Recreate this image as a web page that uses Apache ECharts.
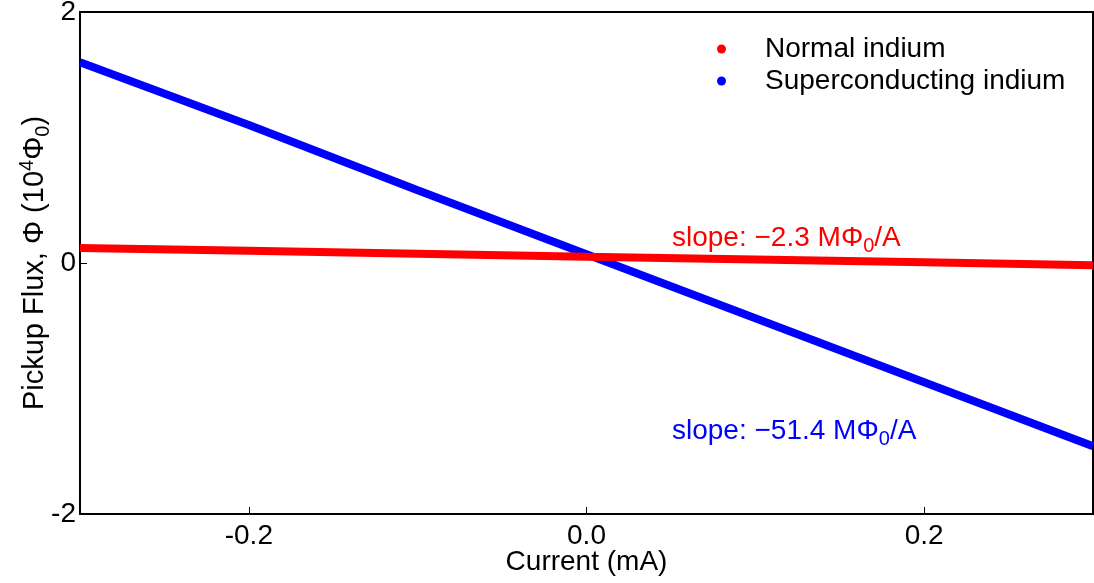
<!DOCTYPE html>
<html>
<head>
    <meta charset="utf-8">
    <style>
        html, body {
            height: 100%;
        }

        * {
            margin: 0;
            padding: 0;
        }

        #container {
            width: 1094px;
            height: 583px;
            background: #fff;
        }
    </style>
</head>
<body>
<div id="container"></div>
<script type="text/javascript" src="https://cdn.jsdelivr.net/npm/echarts@6/dist/echarts.min.js"></script>
<script type="text/javascript">
    // current in mA
    let currentMA = [-0.3, -0.2, -0.1, 0.0, 0.1, 0.2, 0.3];
    // pickup flux in 10^4 Phi0
    let normalFlux = [0.12, 0.097, 0.074, 0.05, 0.028, 0.005, -0.018];
    let superFlux = [1.60, 1.10, 0.58, 0.07, -0.44, -0.95, -1.46];
    let xTicks = [-0.2, 0.0, 0.2];
    let yTicks = [-2, 0, 2];

    let font = 'Liberation Sans, Arial, sans-serif';

    function pairs(xs, ys) {
        return xs.map(function (x, i) {
            return [x, ys[i]];
        });
    }

    let dom = document.getElementById("container");
    let myChart = echarts.init(dom, null, {renderer: 'canvas'});

    let option = {
        animation: false,
        grid: {
            left: 80,
            right: 1,
            top: 12,
            bottom: 69,
            show: true,
            borderColor: '#000',
            borderWidth: 2,
            outerBoundsMode: 'none',
            containLabel: false
        },
        legend: {
            data: ['Normal indium', 'Superconducting indium'],
            orient: 'vertical',
            left: 712,
            top: 30,
            icon: 'circle',
            itemWidth: 9,
            itemHeight: 9,
            itemGap: 4,
            textStyle: {
                fontFamily: font,
                fontSize: 28,
                color: '#000',
                padding: [0, 0, 0, 34],
                lineHeight: 28
            }
        },
        xAxis: {
            type: 'value',
            min: -0.3,
            max: 0.3,
            name: 'Current (mA)',
            nameLocation: 'middle',
            nameGap: 34,
            nameMoveOverlap: false,
            nameTextStyle: {fontFamily: font, fontSize: 28, color: '#000'},
            axisLine: {show: true, onZero: false, lineStyle: {color: '#000', width: 2}},
            axisTick: {show: true, inside: true, length: 7, customValues: xTicks, lineStyle: {color: '#000', width: 1}},
            axisLabel: {
                customValues: xTicks,
                fontFamily: font,
                fontSize: 28,
                color: '#000',
                margin: 8,
                formatter: function (v) {
                    return v.toFixed(1);
                }
            },
            splitLine: {show: false}
        },
        yAxis: {
            type: 'value',
            min: -2,
            max: 2,
            interval: 2,
            name: 'Pickup Flux, Φ (10{sup|4}Φ{sub|0})',
            nameLocation: 'middle',
            nameGap: 27,
            nameMoveOverlap: false,
            nameTextStyle: {
                fontFamily: font,
                fontSize: 29,
                color: '#000',
                lineHeight: 36,
                rich: {
                    sup: {fontFamily: font, fontSize: 20, color: '#000', verticalAlign: 'top', lineHeight: 30},
                    sub: {fontFamily: font, fontSize: 20, color: '#000', verticalAlign: 'bottom', lineHeight: 36}
                }
            },
            axisLine: {show: true, onZero: false, lineStyle: {color: '#000', width: 2}},
            axisTick: {show: true, inside: true, length: 7, customValues: yTicks, lineStyle: {color: '#000', width: 1}},
            axisLabel: {
                customValues: yTicks,
                fontFamily: font,
                fontSize: 28,
                color: '#000',
                margin: 4
            },
            splitLine: {show: false}
        },
        series: [
            {
                name: 'Superconducting indium',
                type: 'line',
                data: pairs(currentMA, superFlux),
                showSymbol: false,
                symbol: 'circle',
                color: '#0000ff',
                lineStyle: {width: 8, color: '#0000ff'},
                z: 2
            },
            {
                name: 'Normal indium',
                type: 'line',
                data: pairs(currentMA, normalFlux),
                showSymbol: false,
                symbol: 'circle',
                color: '#ff0000',
                lineStyle: {width: 8, color: '#ff0000'},
                z: 3
            }
        ],
        graphic: [
            {
                type: 'text',
                left: 672,
                top: 224,
                style: {
                    text: 'slope: −2.3 MΦ{sub|0}/A',
                    fontFamily: font,
                    fontSize: 28,
                    fill: '#ff0000',
                    rich: {
                        sub: {fontFamily: font, fontSize: 20, fill: '#ff0000', padding: [16, 0, 0, 0]}
                    }
                }
            },
            {
                type: 'text',
                left: 672,
                top: 417,
                style: {
                    text: 'slope: −51.4 MΦ{sub|0}/A',
                    fontFamily: font,
                    fontSize: 28,
                    fill: '#0000ff',
                    rich: {
                        sub: {fontFamily: font, fontSize: 20, fill: '#0000ff', padding: [16, 0, 0, 0]}
                    }
                }
            }
        ]
    };
    myChart.setOption(option, true);
</script>
</body>
</html>
